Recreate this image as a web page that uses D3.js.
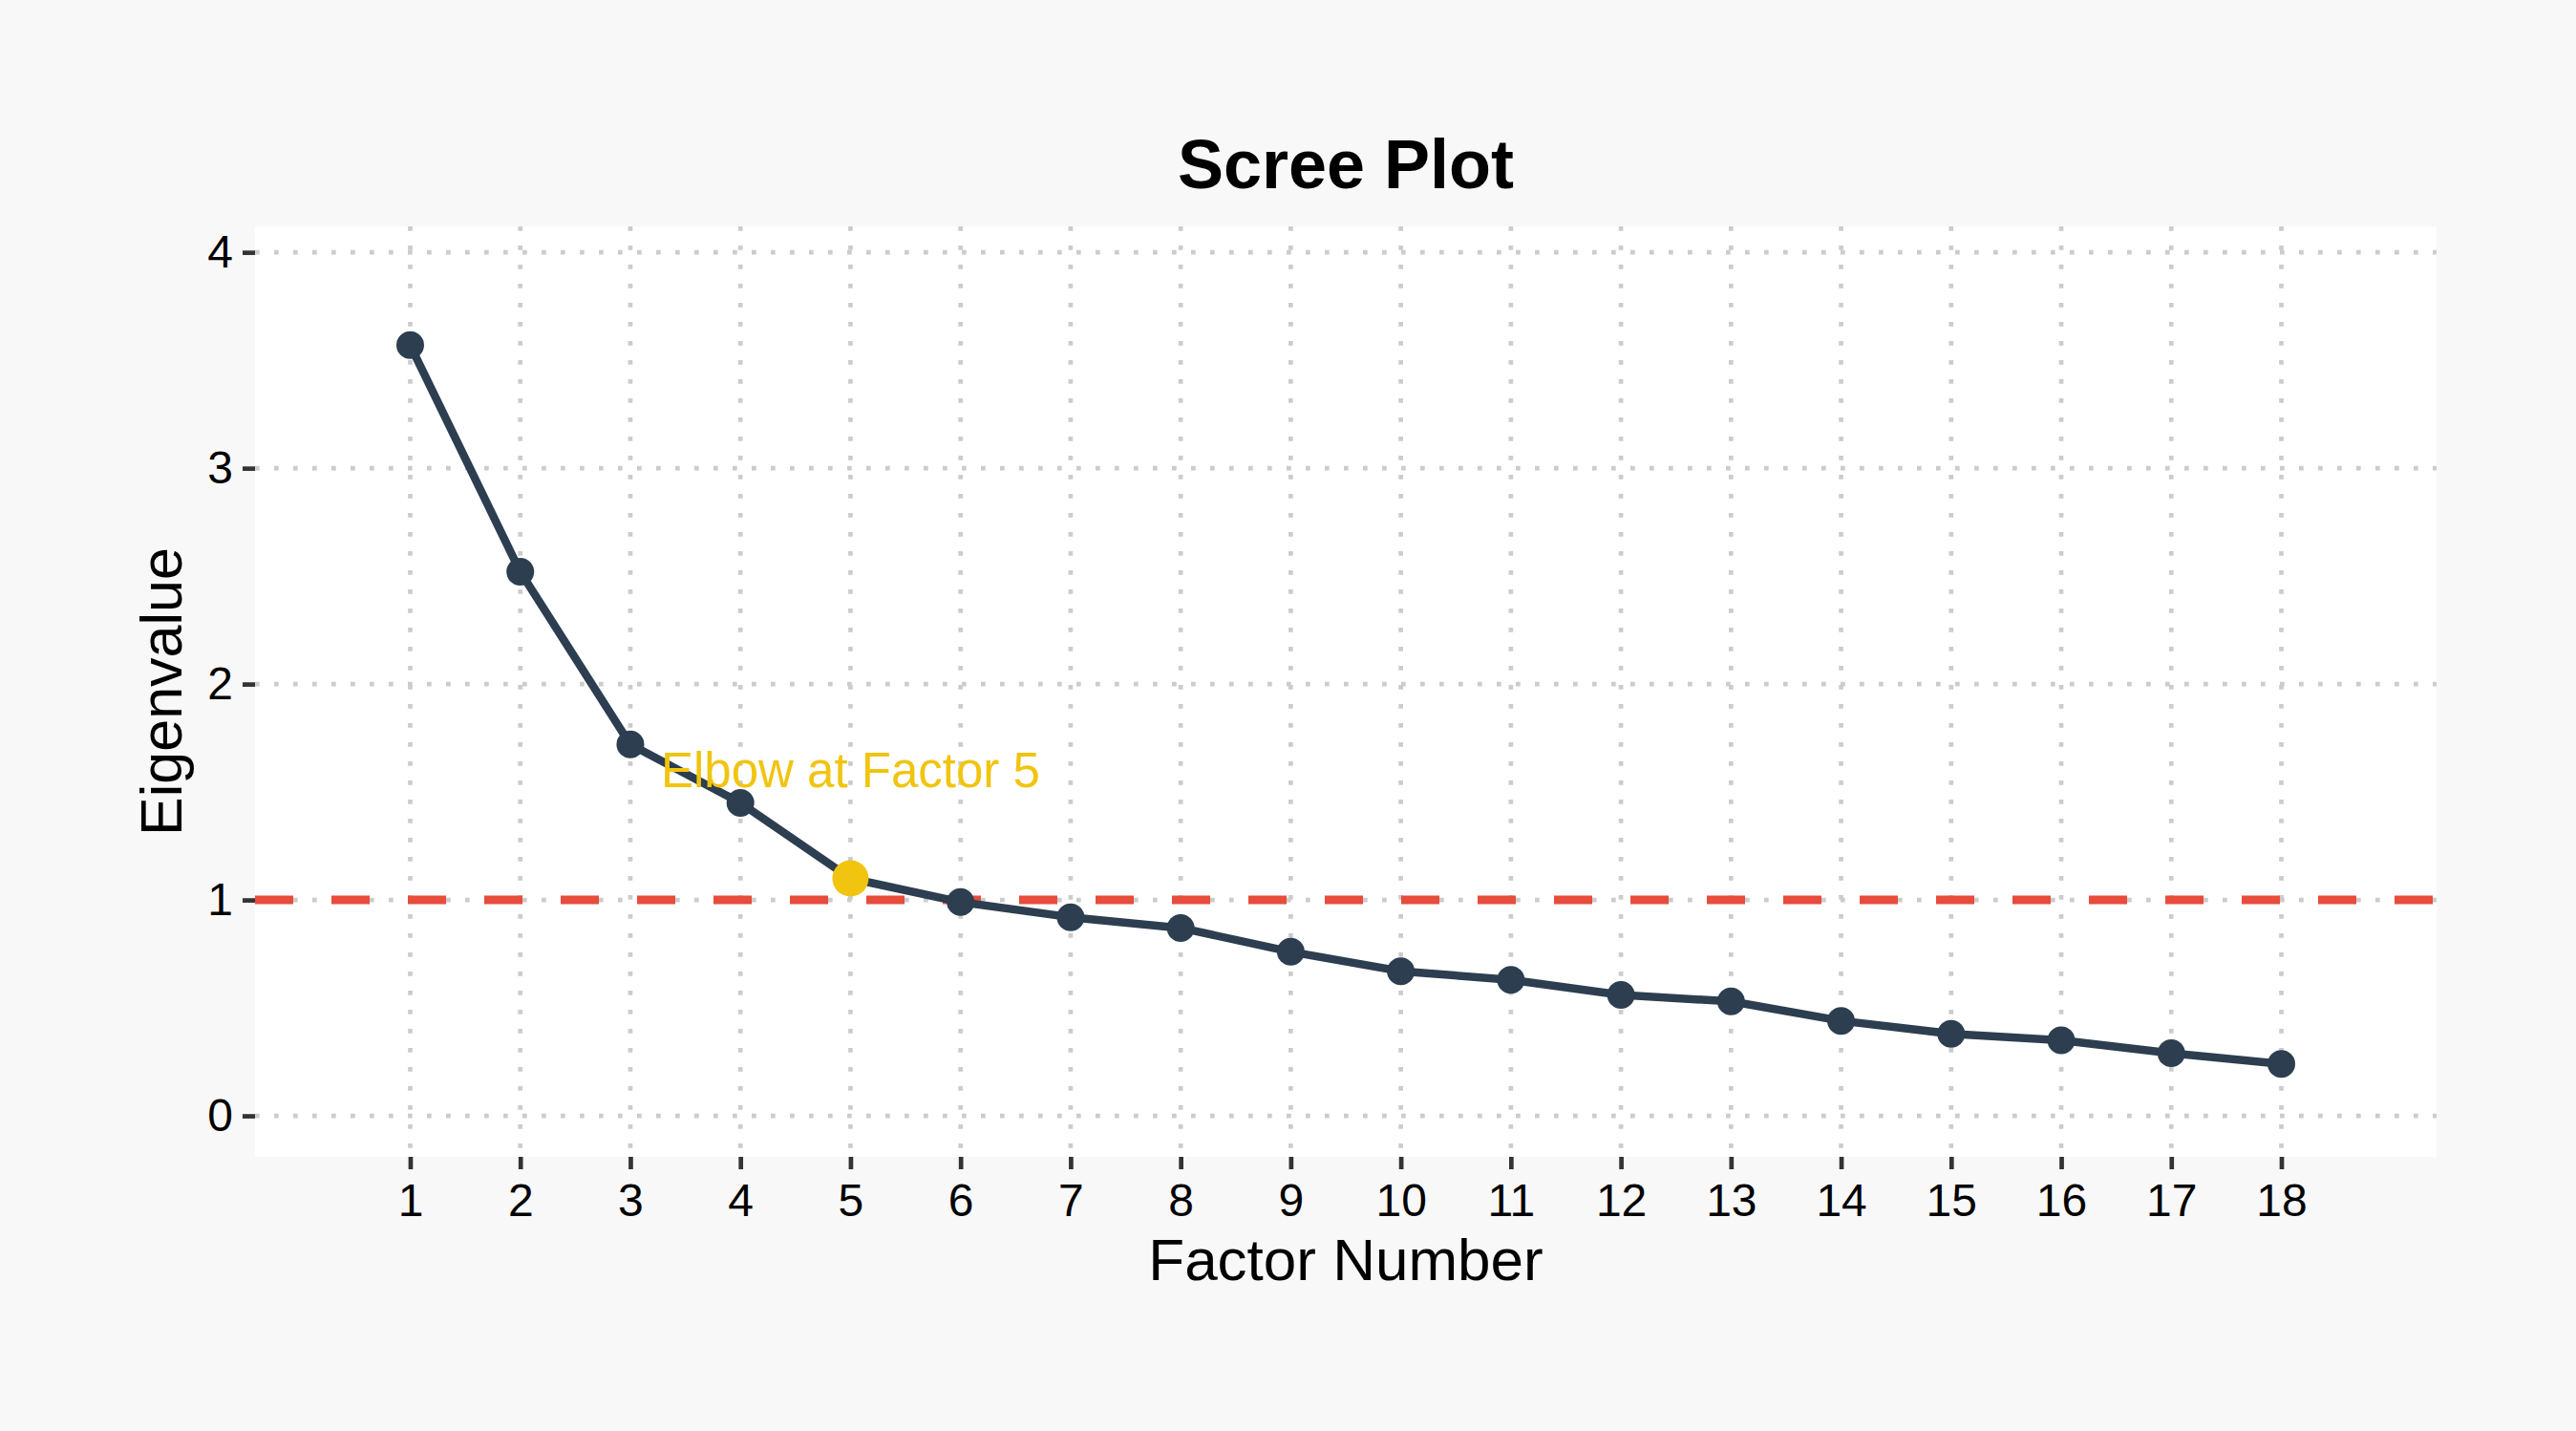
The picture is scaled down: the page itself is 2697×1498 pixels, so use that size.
<!DOCTYPE html>
<html>
<head>
<meta charset="utf-8">
<script src="https://cdn.jsdelivr.net/npm/d3@7"></script>
<style>
  body { margin: 0; background: #f8f8f8; }
  text { font-family: "Liberation Sans", Arial, sans-serif; }
</style>
</head>
<body>
<div id="chart"></div>
<script>
var factors = [1, 2, 3, 4, 5, 6, 7, 8, 9, 10, 11, 12, 13, 14, 15, 16, 17, 18]
var eigenvalues = [3.57, 2.52, 1.72, 1.45, 1.10, 0.99, 0.92, 0.87, 0.76, 0.67, 0.63, 0.56, 0.53, 0.44, 0.38, 0.35, 0.29, 0.24]
var yTicks = [0, 1, 2, 3, 4]
var threshold = 1
var elbowFactor = 5
var elbowLabel = "Elbow at Factor 5"

var width = 2697, height = 1498,
    margin = { top: 237, right: 146, bottom: 287, left: 267 },
    plotW = width - margin.left - margin.right,
    plotH = height - margin.top - margin.bottom

var points = factors.map(function(f, i) { return { f: f, v: eigenvalues[i] } })

var svg = d3.select("#chart").append("svg")
    .attr("width", width)
    .attr("height", height)

svg.append("rect")
    .attr("width", width)
    .attr("height", height)
    .style("fill", "#f8f8f8")

var g = svg.append("g")
    .attr("transform", "translate(" + margin.left + "," + margin.top + ")")

var x = d3.scaleLinear().domain([-0.41, 19.41]).range([0, plotW])
var y = d3.scaleLinear().domain([-0.19, 4.12]).range([plotH, 0])

g.append("rect")
    .attr("width", plotW)
    .attr("height", plotH)
    .style("fill", "#ffffff")

// dotted grid
g.selectAll("line.vgrid")
    .data(factors)
  .enter().append("line")
    .attr("class", "vgrid")
    .attr("x1", function(d) { return x(d) })
    .attr("x2", function(d) { return x(d) })
    .attr("y1", 0)
    .attr("y2", plotH)
    .style("stroke", "#cccccc")
    .style("stroke-width", 4.7)
    .style("stroke-dasharray", "4.7,15.3")

g.selectAll("line.hgrid")
    .data(yTicks)
  .enter().append("line")
    .attr("class", "hgrid")
    .attr("x1", 0)
    .attr("x2", plotW)
    .attr("y1", function(d) { return y(d) })
    .attr("y2", function(d) { return y(d) })
    .style("stroke", "#cccccc")
    .style("stroke-width", 4.7)
    .style("stroke-dasharray", "4.7,15.3")

// axes
var xAxis = g.append("g")
    .attr("transform", "translate(0," + plotH + ")")
    .call(d3.axisBottom(x).tickValues(factors).tickFormat(d3.format("d")).tickSize(13).tickPadding(15))

var yAxis = g.append("g")
    .call(d3.axisLeft(y).tickValues(yTicks).tickFormat(d3.format("d")).tickSize(13).tickPadding(10))

;[xAxis, yAxis].forEach(function(a) {
  a.select(".domain").remove()
  a.selectAll(".tick line").style("stroke", "#333333").style("stroke-width", 4.7)
  a.selectAll(".tick text")
      .style("font-size", "48px")
      .style("fill", "#000000")
      .style("font-family", "'Liberation Sans', Arial, sans-serif")
})

// Kaiser criterion line
g.append("line")
    .attr("x1", 0)
    .attr("x2", plotW)
    .attr("y1", y(threshold))
    .attr("y2", y(threshold))
    .style("stroke", "#e74c3c")
    .style("stroke-width", 9)
    .style("stroke-dasharray", "40,40")

var line = d3.line()
    .x(function(d) { return x(d.f) })
    .y(function(d) { return y(d.v) })

g.append("path")
    .datum(points)
    .attr("d", line)
    .style("fill", "none")
    .style("stroke", "#2c3e50")
    .style("stroke-width", 8.5)
    .style("stroke-linejoin", "round")

g.selectAll("circle.pt")
    .data(points)
  .enter().append("circle")
    .attr("class", "pt")
    .attr("cx", function(d) { return x(d.f) })
    .attr("cy", function(d) { return y(d.v) })
    .attr("r", 14.5)
    .style("fill", "#2c3e50")

var elbow = points.filter(function(d) { return d.f == elbowFactor })

g.selectAll("circle.elbow")
    .data(elbow)
  .enter().append("circle")
    .attr("class", "elbow")
    .attr("cx", function(d) { return x(d.f) })
    .attr("cy", function(d) { return y(d.v) })
    .attr("r", 19)
    .style("fill", "#f1c40f")

g.selectAll("text.elbowlabel")
    .data(elbow)
  .enter().append("text")
    .attr("class", "elbowlabel")
    .attr("x", function(d) { return x(d.f) })
    .attr("y", function(d) { return y(d.v) - 95 })
    .attr("text-anchor", "middle")
    .style("font-size", "51px")
    .style("fill", "#f1c40f")
    .text(elbowLabel)

// titles
svg.append("text")
    .attr("x", margin.left + plotW / 2)
    .attr("y", 197)
    .attr("text-anchor", "middle")
    .style("font-size", "72px")
    .style("font-weight", "bold")
    .style("fill", "#000000")
    .text("Scree Plot")

svg.append("text")
    .attr("x", margin.left + plotW / 2)
    .attr("y", 1340)
    .attr("text-anchor", "middle")
    .style("font-size", "62px")
    .style("fill", "#000000")
    .text("Factor Number")

svg.append("text")
    .attr("transform", "translate(190," + (margin.top + plotH / 2) + ") rotate(-90)")
    .attr("text-anchor", "middle")
    .style("font-size", "61px")
    .style("fill", "#000000")
    .text("Eigenvalue")
</script>
</body>
</html>
